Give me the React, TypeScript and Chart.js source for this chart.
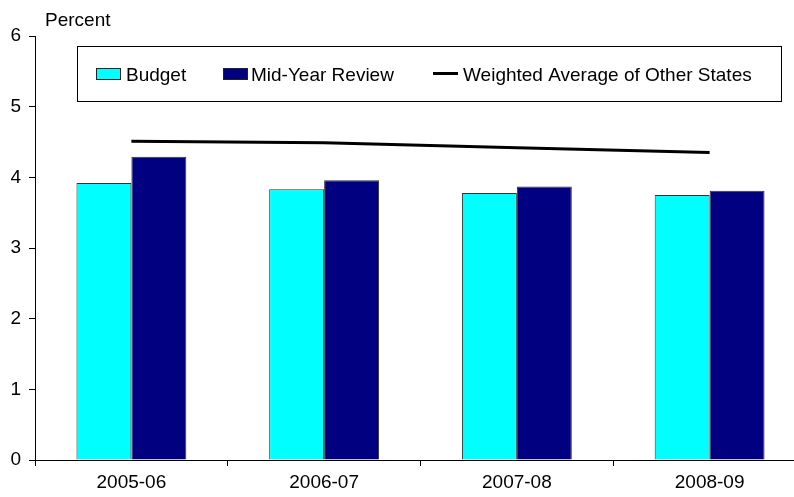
import React, { useEffect, useRef } from "react";
import { Chart, registerables } from "chart.js";

Chart.register(...registerables);

const categories = ["2005-06", "2006-07", "2007-08", "2008-09"];
const budget = [3.92, 3.83, 3.78, 3.75];
const midYearReview = [4.29, 3.96, 3.87, 3.81];
const weightedAverage = [4.51, 4.49, 4.42, 4.35];
const yTicks = [0, 1, 2, 3, 4, 5, 6];
const seriesNames = ["Budget", "Mid-Year Review", "Weighted Average of Other States"];
const yAxisLabel = "Percent";

const FONT = "'Liberation Sans', Arial, Helvetica, sans-serif";

const overlayPlugin = {
  id: "overlay",
  afterDraw(chart: any) {
    const ctx = chart.ctx;
    ctx.save();
    // axis caption
    ctx.fillStyle = "#000";
    ctx.font = `19px ${FONT}`;
    ctx.textBaseline = "alphabetic";
    ctx.textAlign = "left";
    ctx.fillText(yAxisLabel, 45, 26);

    // legend box
    const bx = 77.5, by = 46.5, bw = 704, bh = 55;
    ctx.fillStyle = "#fff";
    ctx.fillRect(bx, by, bw, bh);
    ctx.strokeStyle = "#000";
    ctx.lineWidth = 1;
    ctx.strokeRect(bx, by, bw, bh);

    const baseline = 81;
    ctx.font = `19px ${FONT}`;
    ctx.textBaseline = "alphabetic";
    const ds = chart.data.datasets;
    const items = [
      { x: 96, tx: 126, type: "box", color: ds[0].backgroundColor, label: ds[0].label },
      { x: 223, tx: 251, type: "box", color: ds[1].backgroundColor, label: ds[1].label },
      { x: 433, tx: 463, type: "line", color: ds[2].borderColor, label: ds[2].label },
    ];
    items.forEach((it) => {
      if (it.type === "box") {
        ctx.fillStyle = it.color;
        ctx.fillRect(it.x + 0.5, 68.5, 24, 11);
        ctx.strokeStyle = "#222";
        ctx.lineWidth = 1;
        ctx.strokeRect(it.x + 0.5, 68.5, 24, 11);
      } else {
        ctx.strokeStyle = it.color;
        ctx.lineWidth = 3;
        ctx.beginPath();
        ctx.moveTo(it.x, 73.5);
        ctx.lineTo(it.x + 25, 73.5);
        ctx.stroke();
      }
      ctx.fillStyle = "#000";
      ctx.fillText(it.label, it.tx, baseline);
    });
    ctx.restore();
  },
};

export default function App() {
  const canvasRef = useRef<HTMLCanvasElement | null>(null);

  useEffect(() => {
    const canvas = canvasRef.current;
    if (!canvas) return;
    const chart = new Chart(canvas, {
      type: "bar",
      data: {
        labels: categories,
        datasets: [
          {
            type: "bar",
            label: seriesNames[0],
            data: budget,
            backgroundColor: "#00FFFF",
            borderColor: "#333333",
            borderWidth: 1,
            categoryPercentage: 0.57,
            barPercentage: 1,
            order: 2,
          },
          {
            type: "bar",
            label: seriesNames[1],
            data: midYearReview,
            backgroundColor: "#000080",
            borderColor: "#333333",
            borderWidth: 1,
            categoryPercentage: 0.57,
            barPercentage: 1,
            order: 2,
          },
          {
            type: "line",
            label: seriesNames[2],
            data: weightedAverage,
            borderColor: "#000000",
            backgroundColor: "#000000",
            borderWidth: 3,
            pointRadius: 0,
            tension: 0,
            fill: false,
            order: 1,
          } as any,
        ],
      },
      options: {
        responsive: false,
        animation: false,
        events: [],
        layout: { padding: { top: 36, right: 14, bottom: 0, left: 0 } },
        plugins: {
          legend: { display: false },
          tooltip: { enabled: false },
          title: { display: false },
        },
        scales: {
          x: {
            grid: {
              display: true,
              drawOnChartArea: false,
              drawTicks: true,
              tickLength: 6,
              color: "#000",
              offset: true,
            },
            border: { display: true, color: "#000", width: 1 },
            ticks: {
              color: "#000",
              font: { family: FONT, size: 19 },
              padding: 5,
              maxRotation: 0,
            },
            afterFit: (scale: any) => {
              scale.height = 37;
            },
          },
          y: {
            min: 0,
            max: 6,
            afterBuildTicks: (scale: any) => {
              scale.ticks = yTicks.map((v) => ({ value: v }));
            },
            grid: {
              display: true,
              drawOnChartArea: false,
              drawTicks: true,
              tickLength: 6,
              color: "#000",
            },
            border: { display: true, color: "#000", width: 1 },
            ticks: {
              color: "#000",
              font: { family: FONT, size: 19 },
              padding: 8,
            },
            afterFit: (scale: any) => {
              scale.width = 35;
            },
          },
        },
      },
      plugins: [overlayPlugin],
    });
    return () => chart.destroy();
  }, []);

  return (
    <div
      style={{
        position: "absolute",
        left: 0,
        top: 0,
        width: 794,
        height: 497,
        overflow: "hidden",
        background: "#fff",
      }}
    >
      <canvas ref={canvasRef} width={820} height={497} style={{ display: "block" }} />
    </div>
  );
}
